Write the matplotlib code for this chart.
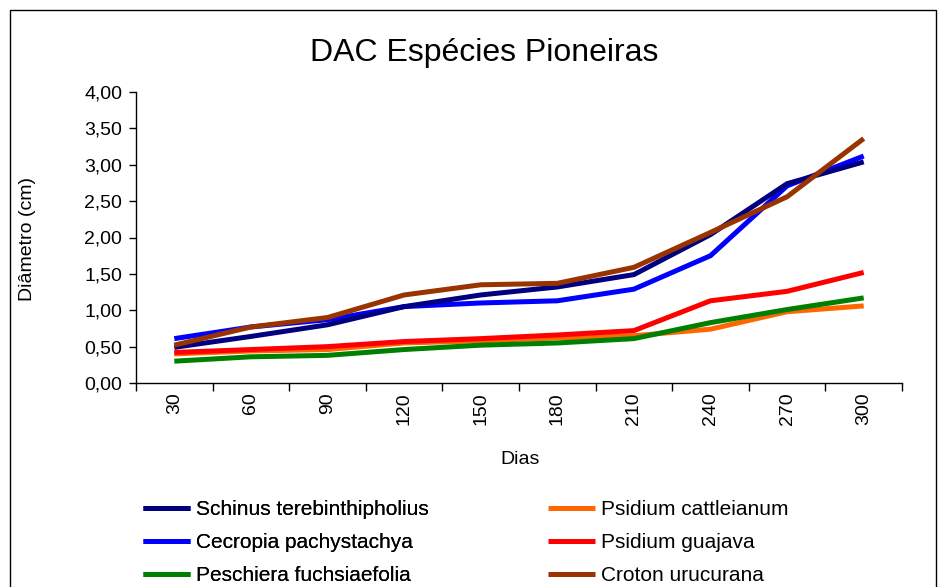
import matplotlib
matplotlib.use("Agg")
import matplotlib.pyplot as plt
import numpy as np
from matplotlib.patches import Rectangle
from matplotlib.ticker import FuncFormatter

plt.rcParams['font.family'] = ['Liberation Sans', 'DejaVu Sans']

dias = ["30", "60", "90", "120", "150", "180", "210", "240", "270", "300"]
schinus = [0.49, 0.64, 0.80, 1.05, 1.21, 1.32, 1.49, 2.04, 2.74, 3.04]
cecropia = [0.61, 0.77, 0.87, 1.05, 1.10, 1.13, 1.29, 1.75, 2.71, 3.12]
peschiera = [0.30, 0.36, 0.38, 0.46, 0.52, 0.55, 0.61, 0.83, 1.01, 1.17]
cattleianum = [0.40, 0.44, 0.46, 0.55, 0.58, 0.62, 0.65, 0.74, 0.98, 1.06]
guajava = [0.42, 0.46, 0.50, 0.57, 0.61, 0.66, 0.72, 1.13, 1.26, 1.52]
croton = [0.52, 0.77, 0.90, 1.21, 1.35, 1.37, 1.59, 2.07, 2.56, 3.36]

series = [
    ("Schinus terebinthipholius", schinus, "#000080"),
    ("Cecropia pachystachya", cecropia, "#0000FF"),
    ("Peschiera fuchsiaefolia", peschiera, "#008000"),
    ("Psidium cattleianum", cattleianum, "#FF6600"),
    ("Psidium guajava", guajava, "#FF0000"),
    ("Croton urucurana", croton, "#993300"),
]
draw_order = [3, 2, 4, 1, 0, 5]

W, H = 946, 587
fig = plt.figure(figsize=(W / 100, H / 100), dpi=100)
ax = fig.add_axes([136 / W, 1 - 383 / H, (902 - 136) / W, (383 - 92) / H])

x = np.arange(len(dias))
lines = {}
for i in draw_order:
    name, vals, col = series[i]
    ln, = ax.plot(x, vals, color=col, lw=3.6, solid_capstyle='butt', solid_joinstyle='miter', label=name)
    lines[i] = ln

ax.set_xlim(-0.5, len(dias) - 0.5)
ax.set_ylim(0, 4.0)
ax.set_yticks(np.arange(0, 4.01, 0.5))
ax.yaxis.set_major_formatter(FuncFormatter(lambda v, p: f"{v:.2f}".replace('.', ',')))
ax.set_xticks(x)
ax.set_xticklabels(dias, rotation=90, fontsize=14)
ax.set_xticks(np.arange(-0.5, len(dias), 1.0), minor=True)
ax.tick_params(axis='x', which='major', length=0, pad=7)
ax.tick_params(axis='x', which='minor', length=6, width=1, direction='out')
ax.tick_params(axis='y', length=5, width=1, direction='out', labelsize=14, pad=5)
for s in ['top', 'right']:
    ax.spines[s].set_visible(False)
for s in ['left', 'bottom']:
    ax.spines[s].set_linewidth(1.0)

fig.text(484 / W, 1 - 53 / H, "DAC Espécies Pioneiras", ha='center', va='center', fontsize=23)
fig.text(27 / W, 1 - 239 / H, "Diâmetro (cm)", ha='center', va='center', rotation=90, fontsize=14)
fig.text(520 / W, 1 - 460 / H, "Dias", ha='center', va='center', fontsize=14)

def make_legend(idxs, xleft):
    hs = [lines[i] for i in idxs]
    lab = [series[i][0] for i in idxs]
    leg = fig.legend(hs, lab, loc='upper left', bbox_to_anchor=(xleft / W, 1 - 500 / H),
                     frameon=False, fontsize=15, handlelength=2.26, handletextpad=0.3,
                     labelspacing=0.68, borderaxespad=0, borderpad=0)
    return leg

leg1 = make_legend([0, 1, 2], 143)
fig.add_artist(leg1)
leg2 = make_legend([3, 4, 5], 548)

fig.add_artist(Rectangle((10 / W, -0.1), (936 - 10) / W, 1.1 - 10 / H, transform=fig.transFigure,
                         fill=False, edgecolor='black', lw=1.0))

fig.savefig("out.png", dpi=100)
